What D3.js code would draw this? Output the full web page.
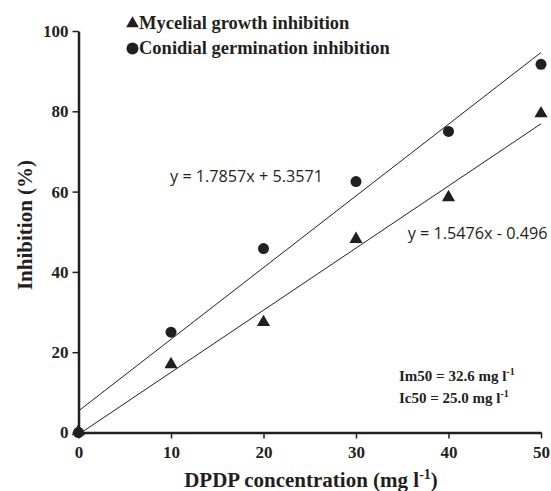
<!DOCTYPE html>
<html>
<head>
<meta charset="utf-8">
<script src="https://cdn.jsdelivr.net/npm/d3@7"></script>
<style>
  body { margin: 0; background: #fff; }
</style>
</head>
<body>
<script>
const concentrations = [0, 10, 20, 30, 40, 50];
const mycelial = [0, 16.7, 27.2, 47.9, 58.3, 79.2];
const conidial = [0, 25.0, 45.8, 62.5, 75.0, 91.7];
const mycelialFit = { slope: 1.5476, intercept: -0.496, label: 'y = 1.5476x - 0.496' };
const conidialFit = { slope: 1.7857, intercept: 5.3571, label: 'y = 1.7857x + 5.3571' };
const seriesNames = ['Mycelial growth inhibition', 'Conidial germination inhibition'];
const xTicks = [0, 10, 20, 30, 40, 50];
const yTicks = [0, 20, 40, 60, 80, 100];

const svgWidth = 551;
const svgHeight = 491;
const margin = { top: 31, right: 10, bottom: 58.5, left: 78.5 };
const width = svgWidth - margin.left - margin.right;
const height = svgHeight - margin.top - margin.bottom;
const ink = '#231f20';
const serif = 'Liberation Serif';

const svg = d3.select('body')
  .append('svg')
  .attr('width', svgWidth)
  .attr('height', svgHeight);

const g = svg.append('g')
  .attr('transform', `translate(${margin.left},${margin.top})`);

const x = d3.scaleLinear().domain([0, 50]).range([0, width]);
const y = d3.scaleLinear().domain([0, 100]).range([height, 0]);

// trend lines
[conidialFit, mycelialFit].forEach(f => {
  g.append('line')
    .attr('x1', x(0)).attr('y1', y(f.intercept))
    .attr('x2', x(50)).attr('y2', y(f.slope * 50 + f.intercept))
    .attr('stroke', ink)
    .attr('stroke-width', 1);
});

const styleAxis = s => {
  s.attr('font-family', serif).attr('font-size', 17).attr('font-weight', 'bold');
  s.select('.domain').attr('stroke', ink).attr('stroke-width', 2.5);
  s.selectAll('.tick line').attr('stroke', ink).attr('stroke-width', 1.5);
  s.selectAll('.tick text').attr('fill', ink);
};

// axes
g.append('g')
  .attr('transform', `translate(0,${height})`)
  .call(d3.axisBottom(x).tickValues(xTicks).tickSize(6).tickSizeOuter(0).tickPadding(7))
  .call(styleAxis);

g.append('g')
  .call(d3.axisLeft(y).tickValues(yTicks).tickSize(6).tickSizeOuter(0).tickPadding(4))
  .call(styleAxis);

// markers
const tri = d3.symbol().type(d3.symbolTriangle).size(75);
g.selectAll('.tri')
  .data(concentrations.map((c, i) => [c, mycelial[i]]))
  .join('path')
  .attr('class', 'tri')
  .attr('d', tri)
  .attr('transform', d => `translate(${x(d[0])},${y(d[1]) - 1})`)
  .attr('fill', ink);

g.selectAll('.dot')
  .data(concentrations.map((c, i) => [c, conidial[i]]))
  .join('circle')
  .attr('class', 'dot')
  .attr('cx', d => x(d[0]))
  .attr('cy', d => y(d[1]))
  .attr('r', 5.5)
  .attr('fill', ink);

// equations
const eqFont = 'Open Sans';
g.append('text')
  .attr('x', x(9.9)).attr('y', y(62.4))
  .attr('font-family', eqFont).attr('font-size', 16.2).attr('fill', ink)
  .text(conidialFit.label);
g.append('text')
  .attr('x', x(35.6)).attr('y', y(48.1))
  .attr('font-family', eqFont).attr('font-size', 16.2).attr('fill', ink)
  .text(mycelialFit.label);

// legend
const legend = svg.append('g')
  .attr('font-family', serif)
  .attr('font-weight', 'bold')
  .attr('font-size', 18.5)
  .attr('fill', ink);
legend.append('path')
  .attr('d', d3.symbol().type(d3.symbolTriangle).size(70))
  .attr('transform', 'translate(132.5,23.5)');
legend.append('circle').attr('cx', 132.5).attr('cy', 48.5).attr('r', 6);
legend.append('text').attr('x', 139).attr('y', 29).text(seriesNames[0]);
legend.append('text').attr('x', 139).attr('y', 54).text(seriesNames[1]);

// IC50 notes
const note = svg.append('g')
  .attr('font-family', serif)
  .attr('font-weight', 'bold')
  .attr('font-size', 15)
  .attr('fill', ink);
[['Im50 = 32.6 mg l', 381], ['Ic50 = 25.0 mg l', 403]].forEach(([t, yy]) => {
  const tx = note.append('text').attr('x', 399).attr('y', yy).text(t);
  tx.append('tspan').attr('dy', -6).attr('font-size', 10).text('-1');
});

// axis titles
const xt = svg.append('text')
  .attr('x', 311).attr('y', 487)
  .attr('text-anchor', 'middle')
  .attr('font-family', serif).attr('font-weight', 'bold').attr('font-size', 21)
  .attr('fill', ink)
  .text('DPDP concentration (mg l');
xt.append('tspan').attr('dy', -8).attr('font-size', 14).text('-1');
xt.append('tspan').attr('dy', 8).text(')');

svg.append('text')
  .attr('transform', 'translate(32,225) rotate(-90)')
  .attr('text-anchor', 'middle')
  .attr('font-family', serif).attr('font-weight', 'bold').attr('font-size', 21)
  .attr('fill', ink)
  .text('Inhibition (%)');
</script>
</body>
</html>
